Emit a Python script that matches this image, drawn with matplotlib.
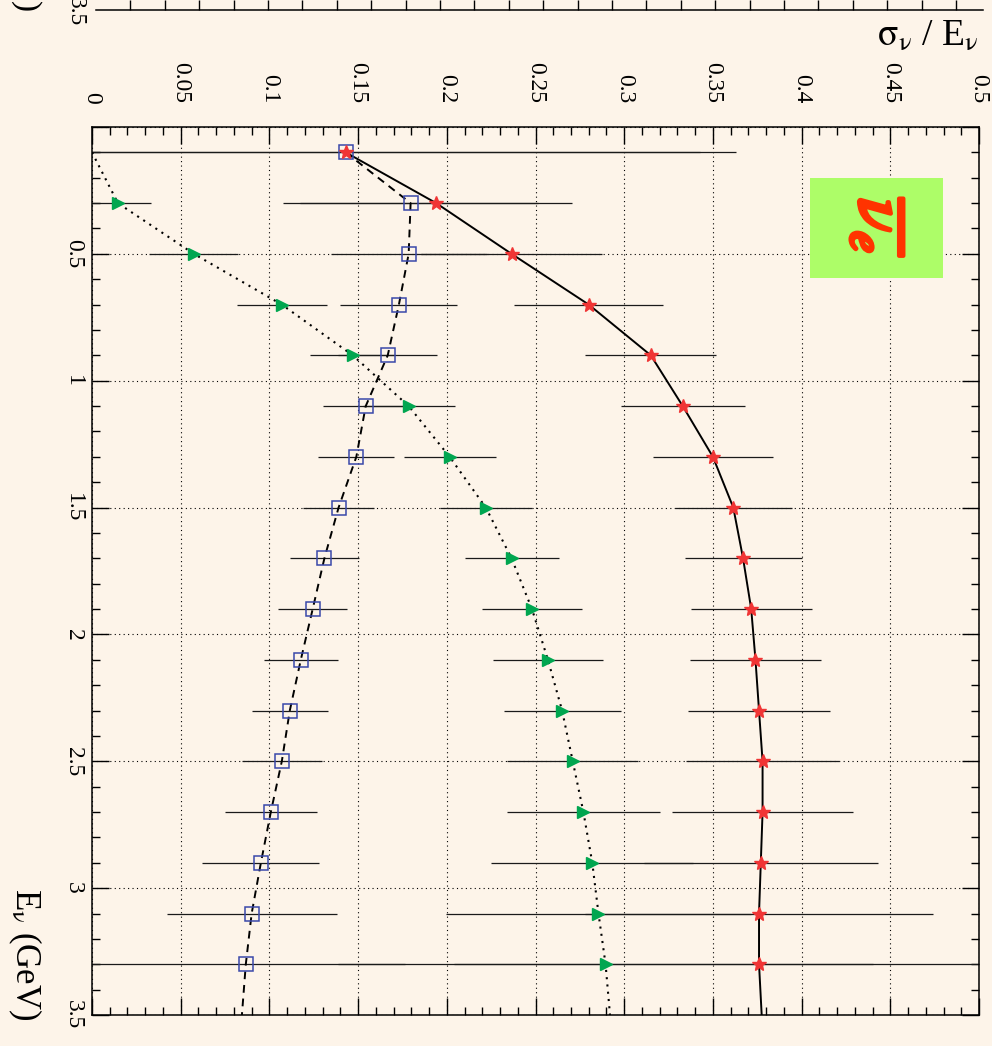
import numpy as np
import matplotlib.pyplot as plt
from matplotlib.patches import Rectangle
from matplotlib.ticker import MultipleLocator
from matplotlib import patheffects

W, H = 992, 1046
BG = "#fdf4e9"

plt.rcParams["font.family"] = "Liberation Serif"
plt.rcParams["mathtext.fontset"] = "stix"

# neutrino energy of each bin (GeV)
energy = [0.1, 0.3, 0.5, 0.7, 0.9, 1.1, 1.3, 1.5, 1.7, 1.9, 2.1, 2.3, 2.5, 2.7, 2.9, 3.1, 3.3]

# red stars
red_ratio = [0.143, 0.194, 0.2365, 0.280, 0.315, 0.333, 0.350, 0.3615, 0.367, 0.3716,
             0.374, 0.376, 0.378, 0.378, 0.377, 0.376, 0.376]
red_err = [0.22, 0.0766, 0.051, 0.042, 0.037, 0.035, 0.034, 0.033, 0.033, 0.034,
           0.037, 0.040, 0.043, 0.051, 0.066, 0.098, 0.172]

# blue open squares
blue_ratio = [0.143, 0.1796, 0.1785, 0.173, 0.1667, 0.1543, 0.149, 0.139, 0.131, 0.1244,
              0.1177, 0.1115, 0.107, 0.1008, 0.0952, 0.090, 0.0867]
blue_err = [0.20, 0.072, 0.044, 0.033, 0.028, 0.024, 0.0215, 0.020, 0.0195, 0.0195,
            0.021, 0.0215, 0.0225, 0.026, 0.033, 0.048, 0.09]

# green triangles (no point in the first bin)
green_energy = energy[1:]
green_ratio = [0.0146, 0.0574, 0.107, 0.147, 0.1785, 0.2016, 0.222, 0.2365, 0.248,
               0.257, 0.265, 0.271, 0.277, 0.282, 0.2855, 0.2895]
green_err = [0.0186, 0.025, 0.0255, 0.024, 0.026, 0.026, 0.026, 0.0265, 0.028,
             0.031, 0.033, 0.037, 0.043, 0.057, 0.086, 0.151]

# fitted curves, drawn out to 3.5 GeV
fit_energy = energy + [3.5]
red_fit = red_ratio + [0.3775]
blue_fit = blue_ratio + [0.0845]
green_fit = [0.0] + green_ratio + [0.292]

sigma_ticks = [0, 0.05, 0.1, 0.15, 0.2, 0.25, 0.3, 0.35, 0.4, 0.45, 0.5]
sigma_labels = ["0", "0.05", "0.1", "0.15", "0.2", "0.25", "0.3", "0.35", "0.4", "0.45", "0.5"]
e_ticks = [0, 0.5, 1, 1.5, 2, 2.5, 3, 3.5]
e_labels = ["", "0.5", "1", "1.5", "2", "2.5", "3", "3.5"]


def px(x0, y0, w, h):
    return [x0 / W, 1 - (y0 + h) / H, w / W, h / H]


fig = plt.figure(figsize=(W / 100, H / 100), dpi=100, facecolor=BG)

# bottom edge of the neighbouring panel, cut off by the page
ax_prev = fig.add_axes(px(96, 0, 887, 10))
ax_prev.set_facecolor("none")
for s in ["top", "left", "right"]:
    ax_prev.spines[s].set_visible(False)
ax_prev.spines["bottom"].set_linewidth(1.1)
ax_prev.set_xlim(0, 887 / 34.4)
ax_prev.set_ylim(0, 1)
ax_prev.set_xticks(np.arange(1, 26))
ax_prev.set_yticks([])
ax_prev.tick_params(axis="x", direction="in", length=7, width=1, labelbottom=False)
fig.text(75 / W, 1 - 12 / H, "3.5", rotation=-90, ha="center", va="center", fontsize=17)
fig.text(25 / W, 1 - 12 / H, ")", rotation=-90, ha="center", va="bottom", fontsize=24)

ax = fig.add_axes(px(92, 127, 887, 888))
ax.set_facecolor(BG)

ax.errorbar(red_ratio, energy, xerr=red_err, fmt="none", ecolor="#1a1a1a",
            elinewidth=0.9, capsize=0, zorder=2)
ax.errorbar(blue_ratio, energy, xerr=blue_err, fmt="none", ecolor="#1a1a1a",
            elinewidth=0.9, capsize=0, zorder=2)
ax.errorbar(green_ratio, green_energy, xerr=green_err, fmt="none", ecolor="#1a1a1a",
            elinewidth=0.9, capsize=0, zorder=2)

ax.plot(red_fit, fit_energy, color="k", lw=1.4, zorder=3)
ax.plot(blue_fit, fit_energy, color="k", lw=1.4, ls=(0, (4, 3)), zorder=3)
ax.plot(green_fit, fit_energy, color="k", lw=1.5, ls=(0, (1, 2.5)), zorder=3)

ax.plot(blue_ratio, energy, ls="none", marker="s", ms=10, mfc="none",
        mec="#3a48aa", mew=1.1, zorder=4)
ax.plot(green_ratio, green_energy, ls="none", marker=">", ms=8,
        color="#00a650", zorder=4)
ax.plot(red_ratio, energy, ls="none", marker="*", ms=10, color="#f03535", zorder=5)

ax.set_xlim(0, 0.5)
ax.set_ylim(3.5, 0)
ax.set_xticks(sigma_ticks)
ax.set_xticklabels(sigma_labels, rotation=-90, fontsize=17)
ax.set_yticks(e_ticks)
ax.set_yticklabels(e_labels, rotation=-90, fontsize=17, va="center")
ax.xaxis.set_minor_locator(MultipleLocator(0.01))
ax.yaxis.set_minor_locator(MultipleLocator(0.1))
ax.tick_params(which="both", direction="in", top=True, bottom=True, left=True, right=True,
               labeltop=True, labelbottom=False, labelleft=True, labelright=False, width=1)
ax.tick_params(which="major", length=12)
ax.tick_params(which="minor", length=5.8)
ax.tick_params(axis="x", pad=17)
ax.tick_params(axis="y", pad=6)
ax.grid(True, which="major", color="k", ls=(0, (1, 3)), lw=0.8)
for s in ax.spines.values():
    s.set_linewidth(1.1)

# particle label box
ax.add_patch(Rectangle((0.8095, 0.830), 0.15, 0.1126, transform=ax.transAxes,
                       fc="#adfd68", ec="none", zorder=6))
lbl = ax.text(0.8845, 0.886, r"$\overline{\nu_e}$", transform=ax.transAxes, rotation=-90,
              ha="center", va="center", fontsize=50, color="#ff3300", zorder=7)
lbl.set_path_effects([patheffects.withStroke(linewidth=3, foreground="#ff3300")])

fig.text(978 / W, 1 - 46 / H, r"$\mathrm{\sigma_{\nu}}$ / E$_{\mathrm{\nu}}$",
         ha="right", va="baseline", fontsize=27)
fig.text(25 / W, 1 - 1020 / H, r"E$_{\mathrm{\nu}}$ (GeV)", rotation=-90,
         ha="center", va="bottom", fontsize=25)

fig.savefig("out.png", dpi=100, facecolor=BG)
